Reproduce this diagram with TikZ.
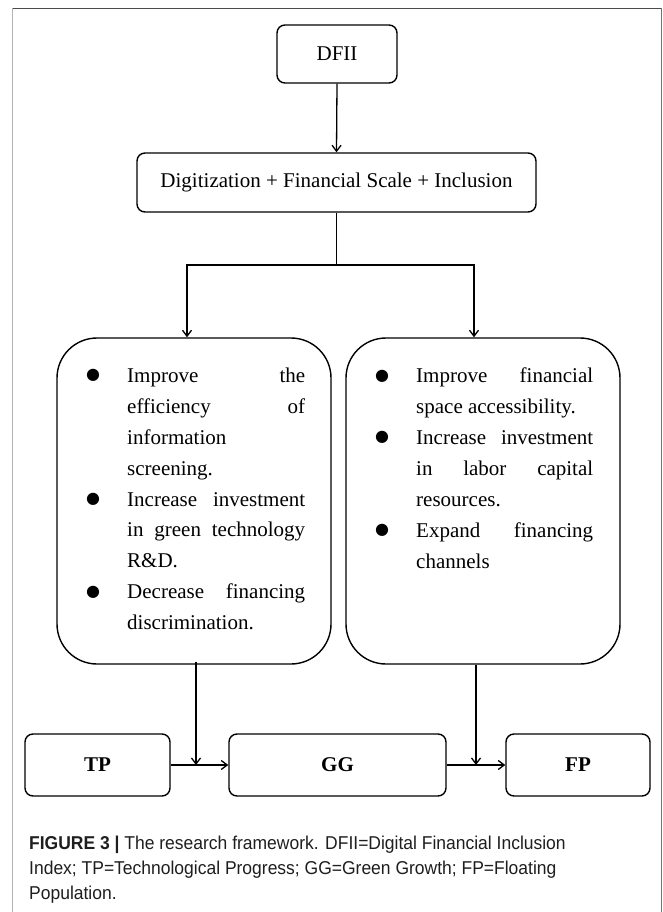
\documentclass[tikz,border=0pt]{standalone}
\usepackage{fontspec}
\setmainfont{Liberation Serif}
\newfontfamily\capfont[FakeStretch=0.94]{Liberation Sans}
\newfontfamily\bulfont{DejaVu Sans}
\usetikzlibrary{arrows.meta}
\definecolor{capcol}{HTML}{1E1E1E}
\newlength\lw
\newcommand\jl[1]{\hbox to \lw{#1}}
\newcommand\bul{\llap{\makebox[0pt][c]{\raisebox{2.5pt}{\bulfont\fontsize{16pt}{16pt}\selectfont ●}}\hspace{34pt}}}
\begin{document}
\begin{tikzpicture}[x=1pt,y=-1pt,
  box/.style={draw=black, line width=1.4pt, rounded corners=8pt, inner sep=0pt, font=\fontsize{21pt}{25pt}\selectfont},
  bigbox/.style={draw=black, line width=1.4pt, rounded corners=40pt, inner sep=0pt},
  bultext/.style={anchor=north west, inner sep=0pt, font=\fontsize{21pt}{30.9pt}\selectfont},
  arr/.style={-{Straight Barb[length=6pt,width=9pt]}, line width=1.3pt, draw=black},
  conn/.style={line width=1.3pt, draw=black}]
\useasboundingbox (0,0) rectangle (663,912);
% frame
\draw[black!30, line width=1.4pt] (12.5,912) -- (12.5,8.5);
\draw[black!70, line width=1.4pt] (12.5,8.5) -- (661.5,8.5);
\draw[black!55, line width=1.4pt] (661.5,8.5) -- (661.5,912);
% nodes
\node[box, minimum width=120pt, minimum height=58pt] (dfii) at (337,54) {DFII};
\node[box, minimum width=399pt, minimum height=59pt] (dig) at (336.5,182.5) {Digitization + Financial Scale + Inclusion};
\node[bigbox, minimum width=274pt, minimum height=326pt] (lb) at (194,501) {};
\node[bigbox, minimum width=274pt, minimum height=326pt] (rb) at (483,501) {};
\node[bultext] (lt) at (127,367.7) {\setlength\lw{178pt}\vbox{\baselineskip=30.9pt\lineskiplimit=-20pt
\jl{\bul Improve\hfill the}
\jl{efficiency\hfill of}
\jl{information\hfill}
\jl{screening.\hfill}
\jl{\bul Increase\hfill investment}
\jl{in\hfill green\hfill technology}
\jl{R\&D.\hfill}
\jl{\bul Decrease\hfill financing}
\jl{discrimination.\hfill}}};
\node[bultext] (rt) at (416,367.7) {\setlength\lw{177pt}\vbox{\baselineskip=30.9pt\lineskiplimit=-20pt
\jl{\bul Improve\hfill financial}
\jl{space accessibility.\hfill}
\jl{\bul Increase\hfill investment}
\jl{in\hfill labor\hfill capital}
\jl{resources.\hfill}
\jl{\bul Expand\hfill financing}
\jl{channels\hfill}}};
\node[box, minimum width=145pt, minimum height=62pt] (tp) at (97.5,765) {\textbf{TP}};
\node[box, minimum width=217pt, minimum height=62pt] (gg) at (337.5,765) {\textbf{GG}};
\node[box, minimum width=144pt, minimum height=62pt] (fp) at (578,765) {\textbf{FP}};
% connectors
\coordinate (split) at (336.5,265);
\draw[arr] (dfii.south) -- (dig.north);
\draw[conn] (dig.south) -- (split);
\draw[arr] (split) -| ([xshift=-7pt]lb.north);
\draw[arr] (split) -| ([xshift=-9pt]rb.north);
\draw[arr] ([shift={(2pt,3pt)}]lb.south) -- ([xshift=2pt]lb.south |- tp.east);
\draw[arr] ([xshift=-7pt]rb.south) -- ([xshift=-7pt]rb.south |- gg.east);
\draw[arr] (tp.east) -- (gg.west);
\draw[arr] (gg.east) -- (fp.west);
% caption
\node[anchor=north west, inner sep=0pt, align=left, text=capcol, font=\capfont\fontsize{18.6pt}{25pt}\selectfont] (cap) at (29,835.5) {\textbf{FIGURE 3 |} The research framework. DFII=Digital Financial Inclusion\\Index; TP=Technological Progress; GG=Green Growth; FP=Floating\\Population.};
\end{tikzpicture}
\end{document}
